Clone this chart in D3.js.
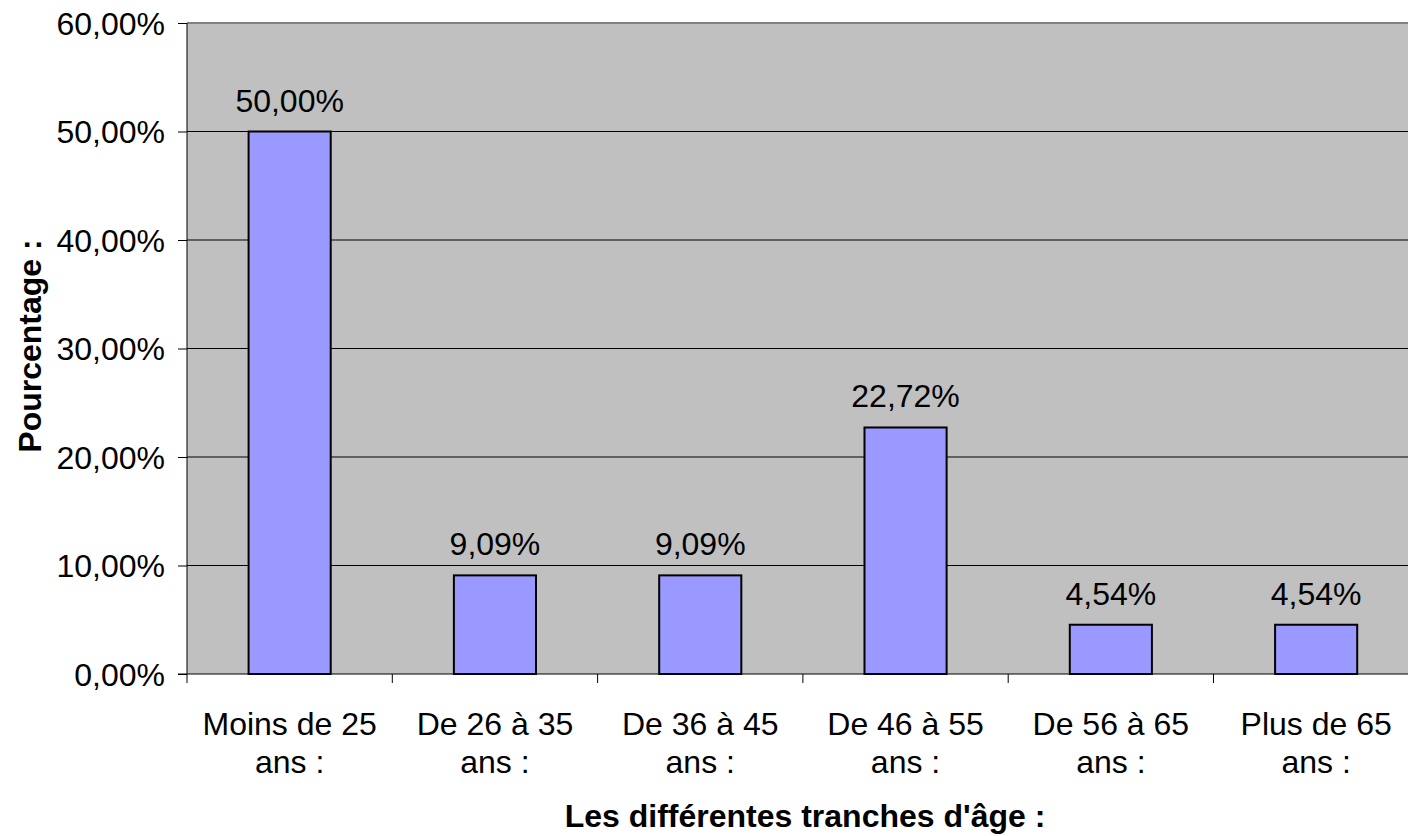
<!DOCTYPE html>
<html>
<head>
<meta charset="utf-8">
<script src="https://cdn.jsdelivr.net/npm/d3@7"></script>
<style>
  body { margin: 0; background: #fff; }
  svg { display: block; font-family: "Liberation Sans", Arial, sans-serif; }
</style>
</head>
<body>
<div id="chart"></div>
<script>
// tranches d'age
var categories = ["Moins de 25 ans :", "De 26 à 35 ans :", "De 36 à 45 ans :", "De 46 à 55 ans :", "De 56 à 65 ans :", "Plus de 65 ans :"]
var labelLines = [["Moins de 25", "ans :"], ["De 26 à 35", "ans :"], ["De 36 à 45", "ans :"], ["De 46 à 55", "ans :"], ["De 56 à 65", "ans :"], ["Plus de 65", "ans :"]]
var values = [50.00, 9.09, 9.09, 22.72, 4.54, 4.54]
var yTicks = [0, 10, 20, 30, 40, 50, 60]

var W = 1408, H = 836
var margin = {top: 23, left: 187, bottom: 162}
var plotW = 6 * 205.3   // plot runs past the right edge of the picture
var plotH = H - margin.top - margin.bottom
var fs = 32

var fmt = function(v){ return v.toFixed(2).replace(".", ",") + "%" }

var svg = d3.select("#chart").append("svg")
    .attr("width", W)
    .attr("height", H)

var g = svg.append("g")
    .attr("transform", "translate(" + margin.left + "," + margin.top + ")")

var x = d3.scaleBand()
    .domain(categories)
    .range([0, plotW])
    .paddingInner(0.6)
    .paddingOuter(0.3)

var y = d3.scaleLinear()
    .domain([0, 60])
    .range([plotH, 0])

// fond gris
g.append("rect")
    .attr("width", plotW)
    .attr("height", plotH)
    .attr("fill", "#c0c0c0")

// grille
g.selectAll(".grid")
  .data(yTicks.filter(function(d){ return d > 0 && d < 60 }))
  .enter().append("line")
    .attr("class", "grid")
    .attr("x1", 0).attr("x2", plotW)
    .attr("y1", function(d){ return y(d) }).attr("y2", function(d){ return y(d) })
    .attr("stroke", "#000").attr("stroke-width", 1)

g.append("line")
    .attr("x1", 0).attr("x2", plotW)
    .attr("y1", y(60)).attr("y2", y(60))
    .attr("stroke", "#808080").attr("stroke-width", 2)

// barres
g.selectAll(".bar")
  .data(values)
  .enter().append("rect")
    .attr("class", "bar")
    .attr("x", function(d, i){ return x(categories[i]) })
    .attr("width", x.bandwidth())
    .attr("y", function(d){ return y(d) })
    .attr("height", function(d){ return plotH - y(d) })
    .attr("fill", "#9999ff")
    .attr("stroke", "#000")
    .attr("stroke-width", 2)

g.selectAll(".val")
  .data(values)
  .enter().append("text")
    .attr("class", "val")
    .attr("x", function(d, i){ return x(categories[i]) + x.bandwidth() / 2 })
    .attr("y", function(d){ return y(d) - 20 })
    .attr("text-anchor", "middle")
    .attr("font-size", fs)
    .attr("fill", "#000")
    .text(fmt)

// axe Y
var yAxis = g.append("g")
    .call(d3.axisLeft(y).tickValues(yTicks).tickSize(9).tickPadding(13).tickFormat(fmt))
yAxis.select(".domain").attr("d", "M0," + plotH + "V0")
yAxis.selectAll("text").attr("font-size", fs).attr("font-family", "Liberation Sans, Arial, sans-serif").attr("dy", "0.35em")
yAxis.selectAll("line").attr("stroke", "#000")

// axe X
var step = x.step()
var xTickPos = d3.range(0, 7).map(function(i){ return i * step })
g.append("line")
    .attr("x1", -9).attr("x2", plotW)
    .attr("y1", plotH).attr("y2", plotH)
    .attr("stroke", "#000")
g.selectAll(".xtick")
  .data(xTickPos)
  .enter().append("line")
    .attr("class", "xtick")
    .attr("x1", function(d){ return d }).attr("x2", function(d){ return d })
    .attr("y1", plotH).attr("y2", plotH + 9)
    .attr("stroke", "#000")

var xl = g.selectAll(".xlab")
  .data(labelLines)
  .enter().append("text")
    .attr("class", "xlab")
    .attr("text-anchor", "middle")
    .attr("font-size", fs)
    .attr("x", function(d, i){ return x(categories[i]) + x.bandwidth() / 2 })
    .attr("y", plotH + 61)
xl.selectAll("tspan")
  .data(function(d){ return d })
  .enter().append("tspan")
    .attr("x", function(){ return d3.select(this.parentNode).attr("x") })
    .attr("dy", function(d, i){ return i ? 38 : 0 })
    .text(function(d){ return d })

// titres
svg.append("text")
    .attr("x", 805).attr("y", 827)
    .attr("text-anchor", "middle")
    .attr("font-size", fs).attr("font-weight", "bold")
    .text("Les différentes tranches d'âge :")

svg.append("text")
    .attr("transform", "translate(41,346) rotate(-90)")
    .attr("text-anchor", "middle")
    .attr("font-size", fs).attr("font-weight", "bold")
    .text("Pourcentage :")
</script>
</body>
</html>
